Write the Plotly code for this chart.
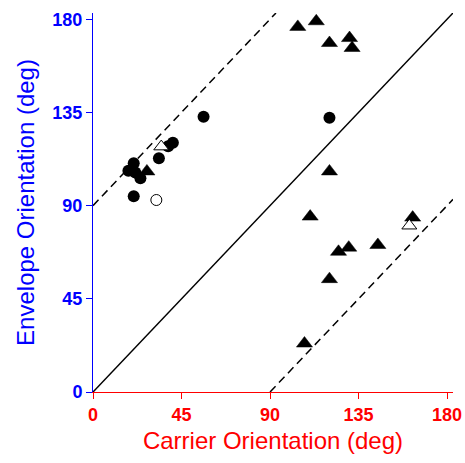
import plotly.graph_objects as go

# Carrier vs envelope orientation (deg)
circ_x = [56.2, 120.2, 40.6, 38.2, 33.5, 18.0, 20.7, 24.1, 21.5, 20.7]
circ_y = [132.9, 132.4, 120.4, 118.7, 112.9, 106.8, 110.5, 103.2, 106.0, 94.5]

open_circ_x = [32.2]
open_circ_y = [92.7]

tri_x = [104.1, 113.5, 120.2, 130.4, 131.7, 120.2, 110.4, 162.5, 130.0, 124.8, 144.8, 120.2, 107.5, 27.4]
tri_y = [176.3, 179.0, 168.5, 170.9, 166.1, 106.5, 84.7, 84.2, 69.7, 67.7, 71.0, 54.5, 23.4, 106.5]

open_tri_x = [160.8, 34.7]
open_tri_y = [80.3, 118.5]

ticks = [0, 45, 90, 135, 180]
axis_max = 183

fig = go.Figure()

# reference lines: identity and +/-90 deg offsets
fig.add_trace(go.Scatter(x=[0, axis_max], y=[0, axis_max], mode="lines",
                         line=dict(color="black", width=1.5)))
fig.add_trace(go.Scatter(x=[0, axis_max - 90], y=[90, axis_max], mode="lines",
                         line=dict(color="black", width=1.5, dash="8px,5px")))
fig.add_trace(go.Scatter(x=[90, axis_max], y=[0, axis_max - 90], mode="lines",
                         line=dict(color="black", width=1.5, dash="8px,5px")))

fig.add_trace(go.Scatter(x=circ_x, y=circ_y, mode="markers",
                         marker=dict(symbol="circle", size=12, color="black",
                                     line=dict(width=0))))
fig.add_trace(go.Scatter(x=open_circ_x, y=open_circ_y, mode="markers",
                         marker=dict(symbol="circle", size=11, color="white",
                                     line=dict(width=1, color="black"))))
fig.add_trace(go.Scatter(x=tri_x, y=tri_y, mode="markers",
                         marker=dict(symbol="triangle-up", size=14, color="black",
                                     line=dict(width=0.5, color="black"))))
fig.add_trace(go.Scatter(x=open_tri_x, y=open_tri_y, mode="markers",
                         marker=dict(symbol="triangle-up", size=13, color="white",
                                     line=dict(width=1, color="black"))))

font_family = "Liberation Sans, Arial, sans-serif"

fig.update_layout(
    width=465, height=463,
    margin=dict(l=93, r=12, t=13, b=71),
    paper_bgcolor="white", plot_bgcolor="white",
    showlegend=False,
    font=dict(family=font_family),
    xaxis=dict(
        range=[0, axis_max], tickvals=ticks, ticktext=[str(t) for t in ticks],
        showgrid=False, zeroline=False, showline=True, linecolor="red", linewidth=1,
        ticks="outside", tickcolor="red", ticklen=6, tickwidth=1, automargin=False,
        tickfont=dict(family=font_family, size=18, color="red", weight="bold"),
        title=dict(text="Carrier Orientation (deg)",
                   font=dict(family=font_family, size=24, color="red"), standoff=8),
    ),
    yaxis=dict(
        range=[0, axis_max], tickvals=ticks, ticktext=[str(t) for t in ticks],
        showgrid=False, zeroline=False, showline=True, linecolor="blue", linewidth=1,
        ticks="outside", tickcolor="blue", ticklen=6, tickwidth=1, automargin=False,
        tickfont=dict(family=font_family, size=18, color="blue", weight="bold"),
        title=dict(text="Envelope Orientation (deg)",
                   font=dict(family=font_family, size=24, color="blue"), standoff=10),
    ),
)

fig.write_html("out.html")
